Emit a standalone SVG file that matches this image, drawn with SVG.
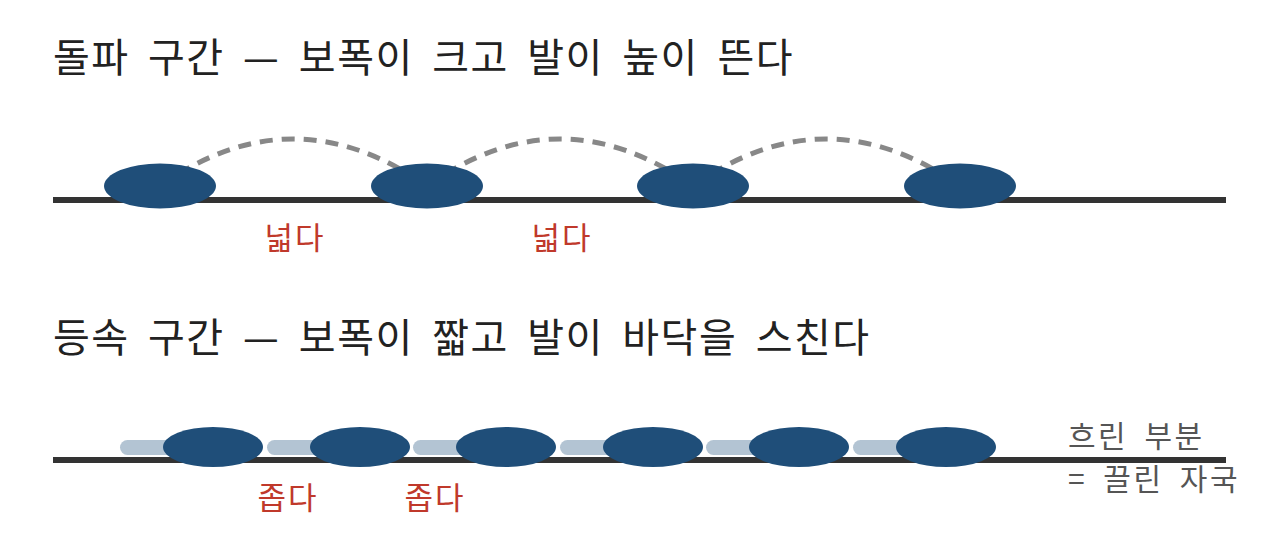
<svg xmlns="http://www.w3.org/2000/svg" width="1280" height="533" viewBox="0 0 1280 533">
<style>
.t{font-family:"Noto Sans CJK KR","Noto Sans",sans-serif;}
.title{font-size:40px;fill:#222;letter-spacing:1.5px;word-spacing:8px;}
.lab{font-size:31px;fill:#c0392b;text-anchor:middle;letter-spacing:2px;}
.leg{font-size:30px;fill:#555;letter-spacing:2.5px;word-spacing:7px;}
.ground{stroke:#333;stroke-width:6;}
.foot{fill:#1f4e79;}
.smudge{fill:#b3c4d3;}
.arc{fill:none;stroke:#888;stroke-width:5;stroke-dasharray:13 9;}
</style>
<rect width="1280" height="533" fill="#fff"/>
<text class="t title" x="53" y="72">돌파 구간 — 보폭이 크고 발이 높이 뜬다</text>
<text class="t title" x="53" y="352">등속 구간 — 보폭이 짧고 발이 바닥을 스친다</text>
<g id="connectors">
<path class="arc" d="M160,186 Q293,92 427,186"/>
<path class="arc" d="M427,186 Q560,92 693,186"/>
<path class="arc" d="M693,186 Q826,92 960,186"/>
</g>
<line id="ground-top" class="ground" x1="53" y1="200" x2="1226" y2="200"/>
<g id="smudges">
<rect class="smudge" x="120" y="440" width="93" height="15" rx="7.5"/>
<rect class="smudge" x="267" y="440" width="93" height="15" rx="7.5"/>
<rect class="smudge" x="413" y="440" width="93" height="15" rx="7.5"/>
<rect class="smudge" x="560" y="440" width="93" height="15" rx="7.5"/>
<rect class="smudge" x="706" y="440" width="93" height="15" rx="7.5"/>
<rect class="smudge" x="853" y="440" width="93" height="15" rx="7.5"/>
</g>
<line id="ground-bottom" class="ground" x1="53" y1="460" x2="1226" y2="460"/>
<g id="foot-top-1"><ellipse class="foot" cx="160" cy="186" rx="56" ry="22.5"/></g>
<g id="foot-top-2"><ellipse class="foot" cx="427" cy="186" rx="56" ry="22.5"/></g>
<g id="foot-top-3"><ellipse class="foot" cx="693" cy="186" rx="56" ry="22.5"/></g>
<g id="foot-top-4"><ellipse class="foot" cx="960" cy="186" rx="56" ry="22.5"/></g>
<g id="foot-bot-1"><ellipse class="foot" cx="213" cy="447" rx="50" ry="20"/></g>
<g id="foot-bot-2"><ellipse class="foot" cx="360" cy="447" rx="50" ry="20"/></g>
<g id="foot-bot-3"><ellipse class="foot" cx="506" cy="447" rx="50" ry="20"/></g>
<g id="foot-bot-4"><ellipse class="foot" cx="653" cy="447" rx="50" ry="20"/></g>
<g id="foot-bot-5"><ellipse class="foot" cx="799" cy="447" rx="50" ry="20"/></g>
<g id="foot-bot-6"><ellipse class="foot" cx="946" cy="447" rx="50" ry="20"/></g>
<text class="t lab" x="295" y="249">넓다</text>
<text class="t lab" x="562" y="249">넓다</text>
<text class="t lab" x="288" y="509">좁다</text>
<text class="t lab" x="435" y="509">좁다</text>
<text class="t leg" x="1068" y="447">흐린 부분</text>
<text class="t leg" x="1068" y="490">= 끌린 자국</text>
</svg>
